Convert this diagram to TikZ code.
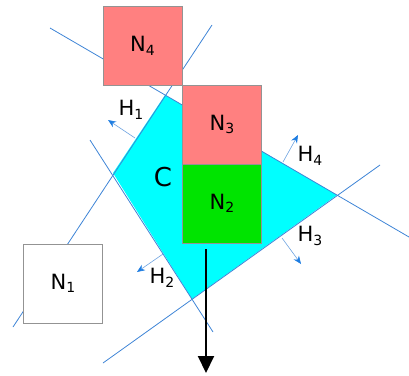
\documentclass[tikz,border=0pt]{standalone}
\usepackage{fontspec}
\setmainfont{DejaVu Sans}
\usetikzlibrary{arrows.meta}

\definecolor{salmon}{RGB}{255,128,128}
\definecolor{boxgreen}{RGB}{0,228,0}
\definecolor{conecyan}{RGB}{0,255,255}
\definecolor{lineblue}{RGB}{62,132,214}
\definecolor{tipblue}{RGB}{30,125,225}

\newcommand{\lowidx}[1]{\raisebox{-0.32ex}{\fontsize{14}{14}\selectfont #1}}

\begin{document}
\begin{tikzpicture}[x=1pt, y=-1pt,
    cell/.style={draw=gray!85, line width=0.6pt, minimum size=79pt,
                 inner sep=0pt, font=\fontsize{21}{21}\selectfont},
    halfplane/.style={draw=lineblue, line width=0.8pt},
    normal/.style={draw=lineblue!75, line width=0.6pt,
                   -{Stealth[length=8pt, width=6.5pt, color=tipblue]}},
    lbl/.style={inner sep=0pt, font=\fontsize{21}{21}\selectfont}]

  \useasboundingbox (0,0) rectangle (409,375);

  % corners of the cone C
  \coordinate (c1) at (113,173);
  \coordinate (c2) at (165,95);
  \coordinate (c3) at (337,195);
  \coordinate (c4) at (192,299);

  \fill[conecyan] (c1) -- (c2) -- (c3) -- (c4) -- cycle;

  % the four half-plane borders
  \coordinate (h1a) at (212,25);  \coordinate (h1b) at (13,327);
  \coordinate (h2a) at (90,140);  \coordinate (h2b) at (213,332);
  \coordinate (h3a) at (380,165); \coordinate (h3b) at (103,363);
  \coordinate (h4a) at (50,28);   \coordinate (h4b) at (409,237);

  \draw[halfplane] (h1a) -- (h1b);
  \draw[halfplane] (h2a) -- (h2b);
  \draw[halfplane] (h3a) -- (h3b);
  \draw[halfplane] (h4a) -- (h4b);

  % boxes
  \node[cell, fill=salmon]   (n4) at (142.5,46)   {N\lowidx{4}};
  \node[cell, fill=salmon]   (n3) at (222,124.5)  {N\lowidx{3}};
  \node[cell, fill=boxgreen] (n2) at (222,203.5)  {N\lowidx{2}};
  \node[cell, fill=white]    (n1) at (63,283.5)   {N\lowidx{1}};

  % outward normals
  \coordinate (v1a) at (135,138); \coordinate (v1b) at (108,120);
  \coordinate (v2a) at (163,254); \coordinate (v2b) at (137,272);
  \coordinate (v3a) at (282,238); \coordinate (v3b) at (301,264);
  \coordinate (v4a) at (283,162); \coordinate (v4b) at (298,135);

  \draw[normal] (v1a) -- (v1b);
  \draw[normal] (v2a) -- (v2b);
  \draw[normal] (v3a) -- (v3b);
  \draw[normal] (v4a) -- (v4b);

  \node[lbl] (l1) at (131,110) {H\lowidx{1}};
  \node[lbl] (l2) at (162,278) {H\lowidx{2}};
  \node[lbl] (l3) at (310,236) {H\lowidx{3}};
  \node[lbl] (l4) at (310,156) {H\lowidx{4}};
  \node[lbl, font=\fontsize{26}{26}\selectfont] (cc) at (163,177) {C};

  % direction of motion
  \coordinate (d0) at (206,249);
  \coordinate (d1) at (206,373);
  \draw[line width=2pt, -{Triangle[length=17pt, width=16pt]}] (d0) -- (d1);

\end{tikzpicture}
\end{document}
